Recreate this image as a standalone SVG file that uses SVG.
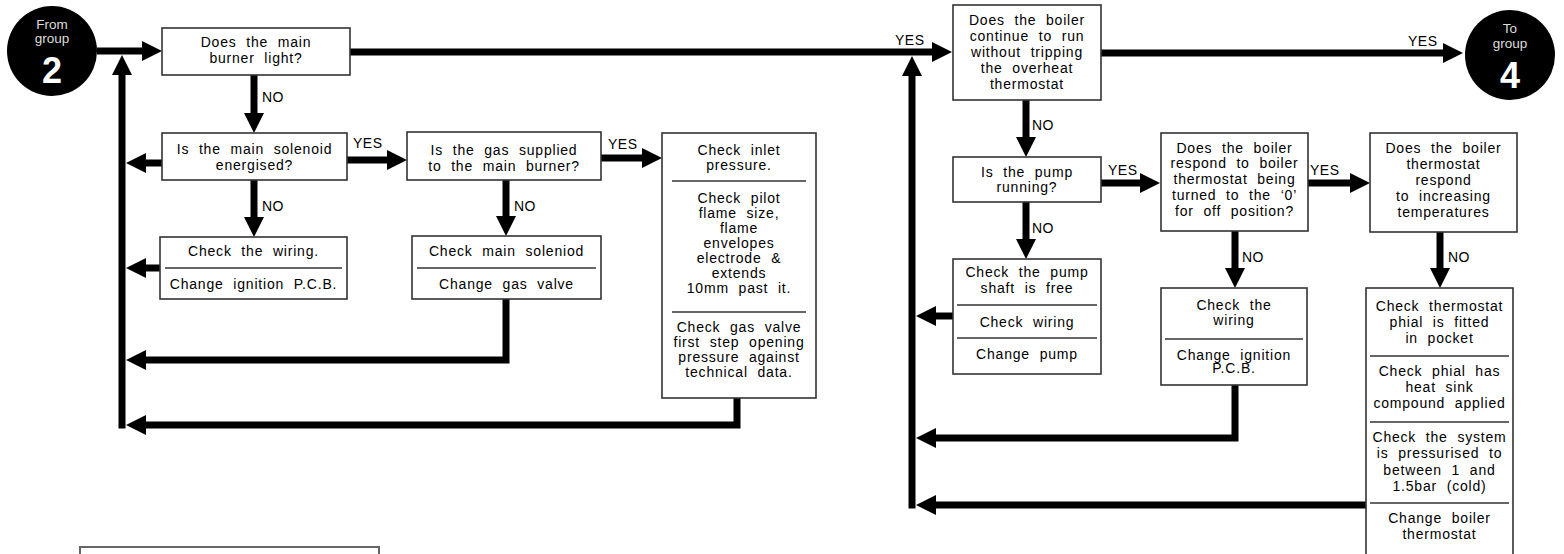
<svg xmlns="http://www.w3.org/2000/svg" width="1564" height="554" viewBox="0 0 1564 554">
<style>
.box{fill:#fff;stroke:#333;stroke-width:1.6}
.div{stroke:#333;stroke-width:1.6}
.t{font-family:"Liberation Sans",Arial,sans-serif;font-size:14px;letter-spacing:0.8px;word-spacing:5px;fill:#000;text-anchor:middle}
.lbl{font-family:"Liberation Sans",Arial,sans-serif;font-size:14px;letter-spacing:0.5px;fill:#000}
.c{fill:#000}
.ct{font-family:"Liberation Sans",Arial,sans-serif;font-size:13.5px;fill:#ddd;text-anchor:middle}
.cn{font-family:"Liberation Sans",Arial,sans-serif;font-size:36px;font-weight:bold;fill:#fff;text-anchor:middle}
.con{fill:none;stroke:#000;stroke-width:7;stroke-linejoin:miter}
</style>
<defs>
<marker id="ah" markerUnits="userSpaceOnUse" markerWidth="20" markerHeight="20" refX="10" refY="10" orient="auto">
<path d="M0,0 L20,10 L0,20 z" fill="#000"/>
</marker>
</defs>
<rect width="1564" height="554" fill="#fff"/>

<g id="connectors">
<path class="con" d="M97,51 H152" marker-end="url(#ah)"/>
<path class="con" d="M122,428.5 V65" marker-end="url(#ah)"/>
<path class="con" d="M350,52 H942" marker-end="url(#ah)"/>
<path class="con" d="M254,75 V123" marker-end="url(#ah)"/>
<path class="con" d="M162,163 H136" marker-end="url(#ah)"/>
<path class="con" d="M347,160 H397" marker-end="url(#ah)"/>
<path class="con" d="M254,180 V227" marker-end="url(#ah)"/>
<path class="con" d="M160,268 H136" marker-end="url(#ah)"/>
<path class="con" d="M601,158 H652" marker-end="url(#ah)"/>
<path class="con" d="M506,180 V226" marker-end="url(#ah)"/>
<path class="con" d="M506,299 V360 H136" marker-end="url(#ah)"/>
<path class="con" d="M737,398 V425 H136" marker-end="url(#ah)"/>
<path class="con" d="M1101,53 H1453" marker-end="url(#ah)"/>
<path class="con" d="M912,508.5 V66" marker-end="url(#ah)"/>
<path class="con" d="M1026,100 V147" marker-end="url(#ah)"/>
<path class="con" d="M1101,183 H1150" marker-end="url(#ah)"/>
<path class="con" d="M1026,202 V249" marker-end="url(#ah)"/>
<path class="con" d="M953,316 H926" marker-end="url(#ah)"/>
<path class="con" d="M1308,183 H1360" marker-end="url(#ah)"/>
<path class="con" d="M1235,231 V278" marker-end="url(#ah)"/>
<path class="con" d="M1235,385 V438 H926" marker-end="url(#ah)"/>
<path class="con" d="M1440,232 V278" marker-end="url(#ah)"/>
<path class="con" d="M1366,505 H926" marker-end="url(#ah)"/>
<text class="lbl" x="262" y="102">NO</text>
<text class="lbl" x="353" y="148">YES</text>
<text class="lbl" x="262" y="211">NO</text>
<text class="lbl" x="608" y="149">YES</text>
<text class="lbl" x="514" y="211">NO</text>
<text class="lbl" x="895" y="45">YES</text>
<text class="lbl" x="1408" y="46">YES</text>
<text class="lbl" x="1032" y="130">NO</text>
<text class="lbl" x="1108" y="175">YES</text>
<text class="lbl" x="1032" y="233">NO</text>
<text class="lbl" x="1310" y="175">YES</text>
<text class="lbl" x="1242" y="262">NO</text>
<text class="lbl" x="1448" y="262">NO</text>
</g>

<g id="from2">
<circle class="c" cx="52" cy="51" r="45"/>
<text class="ct" x="52" y="29">From</text>
<text class="ct" x="52" y="43">group</text>
<text class="cn" x="52" y="83">2</text>
</g>

<g id="to4">
<circle class="c" cx="1510" cy="55" r="45"/>
<text class="ct" x="1510" y="33">To</text>
<text class="ct" x="1510" y="48">group</text>
<text class="cn" x="1510" y="88">4</text>
</g>

<g id="burner">
<rect class="box" x="162" y="28" width="188" height="47"/>
<text class="t" x="256" y="47">Does the main</text>
<text class="t" x="256" y="63">burner light?</text>
</g>

<g id="solenoid">
<rect class="box" x="162" y="133" width="185" height="47"/>
<text class="t" x="254.5" y="154">Is the main solenoid</text>
<text class="t" x="254.5" y="170">energised?</text>
</g>

<g id="gassupply">
<rect class="box" x="407" y="132" width="194" height="48"/>
<text class="t" x="504" y="155">Is the gas supplied</text>
<text class="t" x="504" y="171">to the main burner?</text>
</g>

<g id="inlet">
<rect class="box" x="662" y="133" width="154" height="265"/>
<text class="t" x="739" y="155">Check inlet</text>
<text class="t" x="739" y="170">pressure.</text>
<line class="div" x1="672" y1="181" x2="806" y2="181"/>
<text class="t" x="739" y="203">Check pilot</text>
<text class="t" x="739" y="218">flame size,</text>
<text class="t" x="739" y="233">flame</text>
<text class="t" x="739" y="248">envelopes</text>
<text class="t" x="739" y="263">electrode &amp;</text>
<text class="t" x="739" y="278">extends</text>
<text class="t" x="739" y="293">10mm past it.</text>
<line class="div" x1="672" y1="312" x2="806" y2="312"/>
<text class="t" x="739" y="332">Check gas valve</text>
<text class="t" x="739" y="347">first step opening</text>
<text class="t" x="739" y="362">pressure against</text>
<text class="t" x="739" y="377">technical data.</text>
</g>

<g id="wiring1">
<rect class="box" x="160" y="237" width="187" height="62"/>
<text class="t" x="253.5" y="256">Check the wiring.</text>
<line class="div" x1="165" y1="268" x2="342" y2="268"/>
<text class="t" x="253.5" y="289">Change ignition P.C.B.</text>
</g>

<g id="mainsol">
<rect class="box" x="412" y="236" width="189" height="63"/>
<text class="t" x="506.5" y="256">Check main soleniod</text>
<line class="div" x1="417" y1="268" x2="596" y2="268"/>
<text class="t" x="506.5" y="289">Change gas valve</text>
</g>

<g id="boilerrun">
<rect class="box" x="953" y="5" width="148" height="95"/>
<text class="t" x="1027" y="25">Does the boiler</text>
<text class="t" x="1027" y="41">continue to run</text>
<text class="t" x="1027" y="57">without tripping</text>
<text class="t" x="1027" y="73">the overheat</text>
<text class="t" x="1027" y="89">thermostat</text>
</g>

<g id="pump">
<rect class="box" x="953" y="157" width="148" height="45"/>
<text class="t" x="1027" y="177">Is the pump</text>
<text class="t" x="1027" y="192">running?</text>
</g>

<g id="pumpcheck">
<rect class="box" x="953" y="259" width="148" height="115"/>
<text class="t" x="1027" y="277">Check the pump</text>
<text class="t" x="1027" y="293">shaft is free</text>
<line class="div" x1="957" y1="305" x2="1097" y2="305"/>
<text class="t" x="1027" y="327">Check wiring</text>
<line class="div" x1="957" y1="338" x2="1097" y2="338"/>
<text class="t" x="1027" y="359">Change pump</text>
</g>

<g id="thermoff">
<rect class="box" x="1161" y="133" width="147" height="98"/>
<text class="t" x="1234.5" y="153">Does the boiler</text>
<text class="t" x="1234.5" y="168">respond to boiler</text>
<text class="t" x="1234.5" y="184">thermostat being</text>
<text class="t" x="1234.5" y="200">turned to the ‘0’</text>
<text class="t" x="1234.5" y="216">for off position?</text>
</g>

<g id="wiring2">
<rect class="box" x="1161" y="288" width="146" height="97"/>
<text class="t" x="1234" y="310">Check the</text>
<text class="t" x="1234" y="325">wiring</text>
<line class="div" x1="1165" y1="339" x2="1303" y2="339"/>
<text class="t" x="1234" y="360">Change ignition</text>
<text class="t" x="1234" y="373">P.C.B.</text>
</g>

<g id="thermtemp">
<rect class="box" x="1370" y="133" width="147" height="99"/>
<text class="t" x="1443.5" y="153">Does the boiler</text>
<text class="t" x="1443.5" y="169">thermostat</text>
<text class="t" x="1443.5" y="185">respond</text>
<text class="t" x="1443.5" y="201">to increasing</text>
<text class="t" x="1443.5" y="217">temperatures</text>
</g>

<g id="thermcheck">
<rect class="box" x="1366" y="288" width="147" height="280"/>
<text class="t" x="1439.5" y="311">Check thermostat</text>
<text class="t" x="1439.5" y="327">phial is fitted</text>
<text class="t" x="1439.5" y="343">in pocket</text>
<line class="div" x1="1370" y1="356" x2="1509" y2="356"/>
<text class="t" x="1439.5" y="376">Check phial has</text>
<text class="t" x="1439.5" y="392">heat sink</text>
<text class="t" x="1439.5" y="408">compound applied</text>
<line class="div" x1="1370" y1="422" x2="1509" y2="422"/>
<text class="t" x="1439.5" y="442">Check the system</text>
<text class="t" x="1439.5" y="458">is pressurised to</text>
<text class="t" x="1439.5" y="475">between 1 and</text>
<text class="t" x="1439.5" y="491">1.5bar (cold)</text>
<line class="div" x1="1370" y1="503" x2="1509" y2="503"/>
<text class="t" x="1439.5" y="523">Change boiler</text>
<text class="t" x="1439.5" y="539">thermostat</text>
</g>

<g id="bottombox">
<rect x="80" y="547" width="299" height="20" fill="#fff" stroke="#666" stroke-width="2"/>
</g>
</svg>
